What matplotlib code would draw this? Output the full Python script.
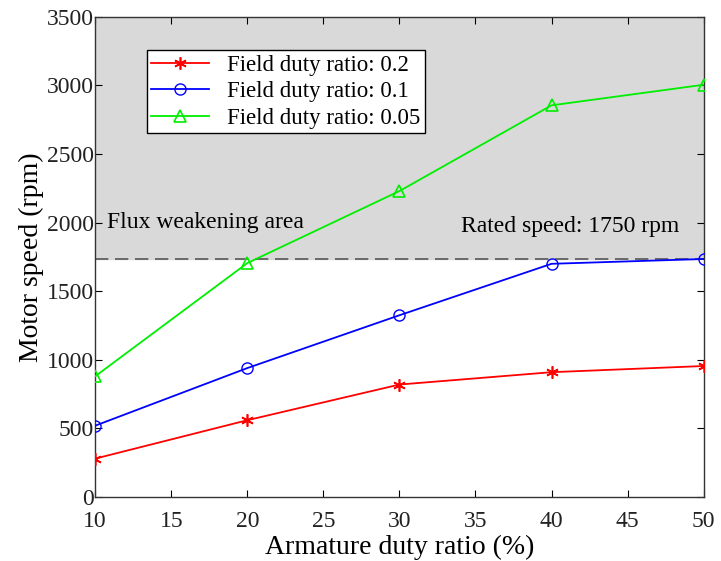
import matplotlib.pyplot as plt

plt.rcParams['font.family'] = ['Liberation Serif', 'DejaVu Serif']

# data
armature = [10, 20, 30, 40, 50]
speed_02 = [280, 560, 820, 910, 955]
speed_01 = [520, 940, 1325, 1700, 1735]
speed_005 = [880, 1705, 2230, 2855, 3005]
rated_speed = 1735
y_max = 3500

fig = plt.figure(figsize=(7.21, 5.61), dpi=100)
ax = fig.add_axes([0.132, 0.114, 0.844, 0.856])

# flux weakening area (shaded) and rated speed line
ax.axhspan(rated_speed, y_max, color='#d9d9d9', zorder=0)
ax.axhline(rated_speed, color='#555555', linestyle=(0, (8, 4)), linewidth=1.2, zorder=1)

ax.plot(armature, speed_02, color='red', marker=(6, 2, 0), markersize=9,
        markeredgewidth=1.2, linewidth=1.3, label='Field duty ratio: 0.2', zorder=3)
ax.plot(armature, speed_01, color='blue', marker='o', markersize=8,
        markerfacecolor='none', markeredgewidth=1.0, linewidth=1.3,
        label='Field duty ratio: 0.1', zorder=3)
ax.plot(armature, speed_005, color='#00ee00', marker='^', markersize=9,
        markerfacecolor='none', markeredgewidth=1.2, linewidth=1.3,
        label='Field duty ratio: 0.05', zorder=3)

ax.text(10.8, 2000, 'Flux weakening area', fontsize=17, va='center', ha='left')
ax.text(48.4, 1970, 'Rated speed: 1750 rpm', fontsize=17, va='center', ha='right')

ax.set_xlim(10, 50)
ax.set_ylim(0, y_max)
ax.set_xticks(range(10, 51, 5))
ax.set_yticks(range(0, 3501, 500))
ax.tick_params(direction='in', top=True, right=True, labelsize=17, length=5,
               labelcolor='#222222')
ax.tick_params(axis='y', pad=1)
ax.tick_params(axis='x', pad=10)
for s in ax.spines.values():
    s.set_color('#333333')
    s.set_linewidth(1.0)

ax.set_xlabel('Armature duty ratio (%)', fontsize=20, labelpad=2)
ax.set_ylabel('Motor speed (rpm)', fontsize=20, labelpad=2)

leg = ax.legend(loc='upper left', bbox_to_anchor=(0.085, 0.93), fontsize=16.5,
                fancybox=False, edgecolor='black', framealpha=1,
                handlelength=2.5, handletextpad=0.8, borderpad=0.2,
                borderaxespad=0, labelspacing=0.23)
leg.get_frame().set_linewidth(1.0)

fig.savefig('out.png', dpi=100)
